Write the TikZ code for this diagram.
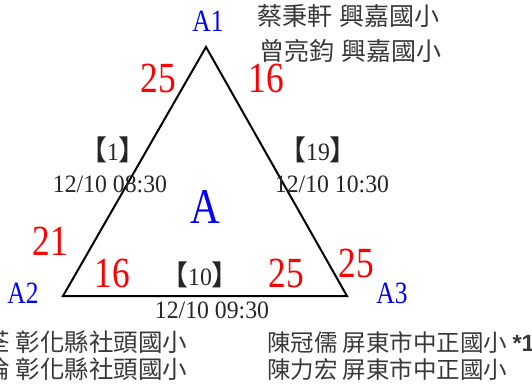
\documentclass[tikz,border=0pt]{standalone}
\usepackage{fontspec}
\setmainfont{Liberation Serif}
\newfontfamily\mingA[FakeStretch=0.82]{Liberation Serif}
\newfontfamily\mingD[FakeStretch=0.95]{Liberation Serif}
\newfontfamily\cjk{Noto Sans CJK TC}
\newfontfamily\sansb{Liberation Sans}
\newcommand\brk[1]{{\cjk\fontsize{28}{28}\selectfont #1}}
\begin{document}
\begin{tikzpicture}[x=1pt,y=-1pt,
  every node/.style={inner sep=0pt, outer sep=0pt, anchor=base},
  vlabel/.style={text=blue, font=\mingA\fontsize{31}{31}\selectfont},
  bigA/.style={text=blue, font=\mingA\fontsize{50}{50}\selectfont},
  score/.style={text=red, font=\mingA\fontsize{43}{43}\selectfont},
  datet/.style={text=black!85, font=\mingD\fontsize{25}{25}\selectfont},
  gamet/.style={text=black!85, font=\mingD\fontsize{25}{25}\selectfont},
  namet/.style={text=black!78, font=\cjk\fontsize{25}{25}\selectfont, anchor=base west},
  namel/.style={text=black!78, font=\cjk\fontsize{24.5}{24.5}\selectfont, anchor=base west},
  nameb/.style={text=black!78, font=\cjk\fontsize{23.5}{23.5}\selectfont, anchor=base west},
  edge/.style={line width=2pt, line join=miter}
]
\useasboundingbox (0,0) rectangle (532,384);
\clip (0,0) rectangle (532,384);
% triangle
\coordinate (T) at (206,47);
\coordinate (L) at (63,296);
\coordinate (R) at (347,296);
\draw[edge] (T) -- (L) -- (R) -- cycle;
% vertex labels
\node[vlabel] (a1) at (208,31) {A1};
\node[vlabel] (a2) at (23,303) {A2};
\node[vlabel] (a3) at (392,303) {A3};
\node[bigA] (ga) at (205.5,223) {A};
% scores
\node[score] (s1) at (158,92) {25};
\node[score] (s2) at (266,92) {16};
\node[score] (s3) at (50,255) {21};
\node[score] (s4) at (112,287) {16};
\node[score] (s5) at (286,287) {25};
\node[score] (s6) at (356,277) {25};
% games
\node[gamet] (g1) at (113,160) {\brk{【}1\brk{】}};
\node[datet] (d1) at (110,192) {12/10 08:30};
\node[gamet] (g19) at (318,160) {\brk{【}19\brk{】}};
\node[datet] (d19) at (332,192) {12/10 10:30};
\node[gamet] (g10) at (200,285) {\brk{【}10\brk{】}};
\node[datet] (d10) at (212,318) {12/10 09:30};
% team names
\node[namet] (n1) at (257,25) {蔡秉軒\hspace{2pt} 興嘉國小};
\node[namet] (n2) at (259,60) {曾亮鈞\hspace{2pt} 興嘉國小};
\node[namel] (n3) at (-14,351) {荃 彰化縣社頭國小};
\node[namel] (n4) at (-14,378) {倫 彰化縣社頭國小};
\node[nameb] (n5) at (267,351) {陳冠儒 屏東市中正國小 {\sansb\bfseries *1}};
\node[nameb] (n6) at (267,378) {陳力宏 屏東市中正國小};
\end{tikzpicture}
\end{document}
